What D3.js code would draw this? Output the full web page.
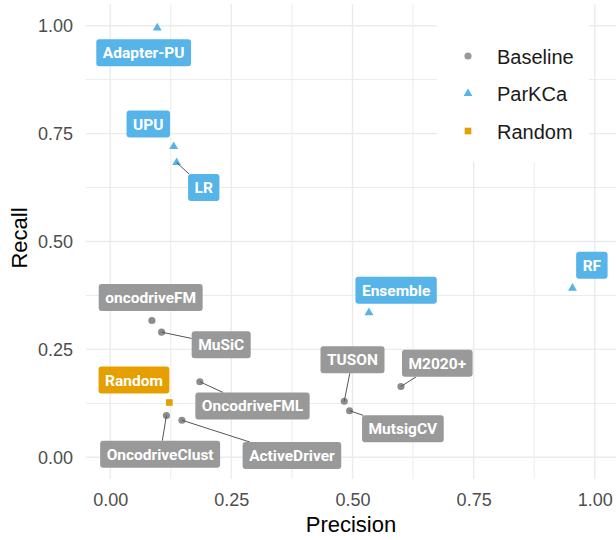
<!DOCTYPE html>
<html>
<head>
<meta charset="utf-8">
<script src="https://cdn.jsdelivr.net/npm/d3@7"></script>
<style>
  body { margin: 0; background: #fff; }
  svg { display: block; }
</style>
</head>
<body>
<div id="chart"></div>
<script>
var methods   = ["Adapter-PU", "UPU", "LR", "Ensemble", "RF", "oncodriveFM", "MuSiC", "Random",
                 "OncodriveFML", "OncodriveClust", "ActiveDriver", "TUSON", "M2020+", "MutsigCV"];
var groups    = ["ParKCa", "ParKCa", "ParKCa", "ParKCa", "ParKCa", "Baseline", "Baseline", "Random",
                 "Baseline", "Baseline", "Baseline", "Baseline", "Baseline", "Baseline"];
var precision = [0.097, 0.131, 0.137, 0.534, 0.954, 0.086, 0.106, 0.122, 0.185, 0.116, 0.148, 0.483, 0.600, 0.494];
var recall    = [0.995, 0.720, 0.683, 0.335, 0.392, 0.317, 0.290, 0.127, 0.175, 0.097, 0.086, 0.130, 0.164, 0.108];
// where the repelled labels ended up (data units)
var labelPrecision = [0.069, 0.0785, 0.193, 0.590, 0.994, 0.0835, 0.229, 0.049, 0.2936, 0.103, 0.375, 0.500, 0.675, 0.604];
var labelRecall    = [0.937, 0.772, 0.625, 0.387, 0.445, 0.370, 0.261, 0.179, 0.119, 0.007, 0.004, 0.226, 0.218, 0.066];
var showSegment    = [false, false, true, false, false, false, true, false, true, true, true, true, true, true];

var legendGroups = ["Baseline", "ParKCa", "Random"];
var xTicks = [0, 0.25, 0.5, 0.75, 1];
var yTicks = [0, 0.25, 0.5, 0.75, 1];
var xMinor = [0.125, 0.375, 0.625, 0.875];
var yMinor = [0.125, 0.375, 0.625, 0.875];

var data = methods.map(function(m, i) {
    return {name: m, group: groups[i], x: precision[i], y: recall[i],
            lx: labelPrecision[i], ly: labelRecall[i], seg: showSegment[i]};
});

var width = 616, height = 540;
var color = d3.scaleOrdinal().domain(legendGroups).range(["#999999", "#56B4E9", "#E69F00"]);
var shape = d3.scaleOrdinal().domain(legendGroups).range([d3.symbolCircle, d3.symbolTriangle, d3.symbolSquare]);
var shapeSize = d3.scaleOrdinal().domain(legendGroups).range([40, 34, 44]);

var x = d3.scaleLinear().domain([-0.05, 1.05]).range([86, 619]);
var y = d3.scaleLinear().domain([-0.05, 1.05]).range([478.9, 4.1]);

var svg = d3.select("#chart").append("svg")
    .attr("width", width)
    .attr("height", height);

// grid
var grid = svg.append("g");
grid.selectAll(".vminor").data(xMinor).enter().append("line")
    .attr("x1", function(d){return x(d);}).attr("x2", function(d){return x(d);})
    .attr("y1", y.range()[0]).attr("y2", y.range()[1])
    .attr("stroke", "#EBEBEB").attr("stroke-width", 1);
grid.selectAll(".hminor").data(yMinor).enter().append("line")
    .attr("y1", function(d){return y(d);}).attr("y2", function(d){return y(d);})
    .attr("x1", x.range()[0]).attr("x2", x.range()[1])
    .attr("stroke", "#EBEBEB").attr("stroke-width", 1);
grid.selectAll(".vmajor").data(xTicks).enter().append("line")
    .attr("x1", function(d){return x(d);}).attr("x2", function(d){return x(d);})
    .attr("y1", y.range()[0]).attr("y2", y.range()[1])
    .attr("stroke", "#EBEBEB").attr("stroke-width", 1.4);
grid.selectAll(".hmajor").data(yTicks).enter().append("line")
    .attr("y1", function(d){return y(d);}).attr("y2", function(d){return y(d);})
    .attr("x1", x.range()[0]).attr("x2", x.range()[1])
    .attr("stroke", "#EBEBEB").attr("stroke-width", 1.4);

// axes (labels only, theme_minimal style)
var xAxis = svg.append("g")
    .attr("transform", "translate(0," + 478.9 + ")")
    .call(d3.axisBottom(x).tickValues(xTicks).tickFormat(d3.format(".2f")).tickSize(0).tickPadding(14));
var yAxis = svg.append("g")
    .attr("transform", "translate(86,0)")
    .call(d3.axisLeft(y).tickValues(yTicks).tickFormat(d3.format(".2f")).tickSize(0).tickPadding(13));
[xAxis, yAxis].forEach(function(a) {
    a.select(".domain").remove();
    a.selectAll("text")
        .attr("font-family", "Liberation Sans, Arial, sans-serif")
        .attr("font-size", 18)
        .attr("fill", "#4D4D4D");
});

svg.append("text")
    .attr("x", 351).attr("y", 532)
    .attr("text-anchor", "middle")
    .attr("font-family", "Liberation Sans, Arial, sans-serif")
    .attr("font-size", 22)
    .attr("fill", "#000")
    .text("Precision");
svg.append("text")
    .attr("transform", "translate(27,238) rotate(-90)")
    .attr("text-anchor", "middle")
    .attr("font-family", "Liberation Sans, Arial, sans-serif")
    .attr("font-size", 22)
    .attr("fill", "#000")
    .text("Recall");

// legend
var legend = svg.append("g");
legend.append("rect")
    .attr("x", 437).attr("y", 4).attr("width", 152).attr("height", 158)
    .attr("fill", "#fff");
var legendItems = legend.selectAll(".item").data(legendGroups).enter().append("g")
    .attr("transform", function(d, i){return "translate(468," + (56 + i * 37.5) + ")";});
legendItems.append("path")
    .attr("d", function(d){return d3.symbol().type(shape(d)).size(shapeSize(d))();})
    .attr("fill", function(d){return color(d);});
legendItems.append("text")
    .attr("x", 29).attr("y", 7.5)
    .attr("font-family", "Liberation Sans, Arial, sans-serif")
    .attr("font-size", 20)
    .attr("fill", "#1A1A1A")
    .text(function(d){return d;});

// points
svg.selectAll(".pt").data(data).enter().append("path")
    .attr("transform", function(d){return "translate(" + x(d.x) + "," + y(d.y) + ")";})
    .attr("d", function(d){return d3.symbol().type(shape(d.group)).size(shapeSize(d.group))();})
    .attr("fill", function(d){return d.group === "Baseline" ? "#8C8C8C" : color(d.group);});

// labels
var labels = svg.append("g");
var segG = labels.append("g");
var boxG = labels.append("g");
var nodes = boxG.selectAll(".lab").data(data).enter().append("g");
var rects = nodes.append("rect");
var texts = nodes.append("text")
    .attr("x", function(d){return x(d.lx);})
    .attr("y", function(d){return y(d.ly) + 5.5;})
    .attr("text-anchor", "middle")
    .attr("font-family", "Roboto, sans-serif")
    .attr("font-weight", "bold")
    .attr("font-size", 15.5)
    .attr("fill", "#fff")
    .text(function(d){return d.name;});

texts.each(function(d) {
    var w = this.getComputedTextLength() + 13;
    var h = 27;
    d.box = {x0: x(d.lx) - w / 2, x1: x(d.lx) + w / 2, y0: y(d.ly) - h / 2, y1: y(d.ly) + h / 2};
});
rects
    .attr("x", function(d){return d.box.x0;})
    .attr("y", function(d){return d.box.y0;})
    .attr("width", function(d){return d.box.x1 - d.box.x0;})
    .attr("height", function(d){return d.box.y1 - d.box.y0;})
    .attr("rx", 3).attr("ry", 3)
    .attr("fill", function(d){return color(d.group);});

// segment from point to where the line to the label centre meets the box
function edgePoint(d) {
    var px = x(d.x), py = y(d.y), cx = x(d.lx), cy = y(d.ly);
    var dx = cx - px, dy = cy - py, t = 1;
    var hw = (d.box.x1 - d.box.x0) / 2, hh = (d.box.y1 - d.box.y0) / 2;
    var tx = dx !== 0 ? 1 - hw / Math.abs(dx) : 1;
    var ty = dy !== 0 ? 1 - hh / Math.abs(dy) : 1;
    t = Math.max(0, Math.max(tx, ty));
    return [px + dx * t, py + dy * t];
}
segG.selectAll("line").data(data.filter(function(d){return d.seg;})).enter().append("line")
    .attr("x1", function(d){return x(d.x);})
    .attr("y1", function(d){return y(d.y);})
    .attr("x2", function(d){return edgePoint(d)[0];})
    .attr("y2", function(d){return edgePoint(d)[1];})
    .attr("stroke", "#555")
    .attr("stroke-width", 1);
</script>
</body>
</html>
